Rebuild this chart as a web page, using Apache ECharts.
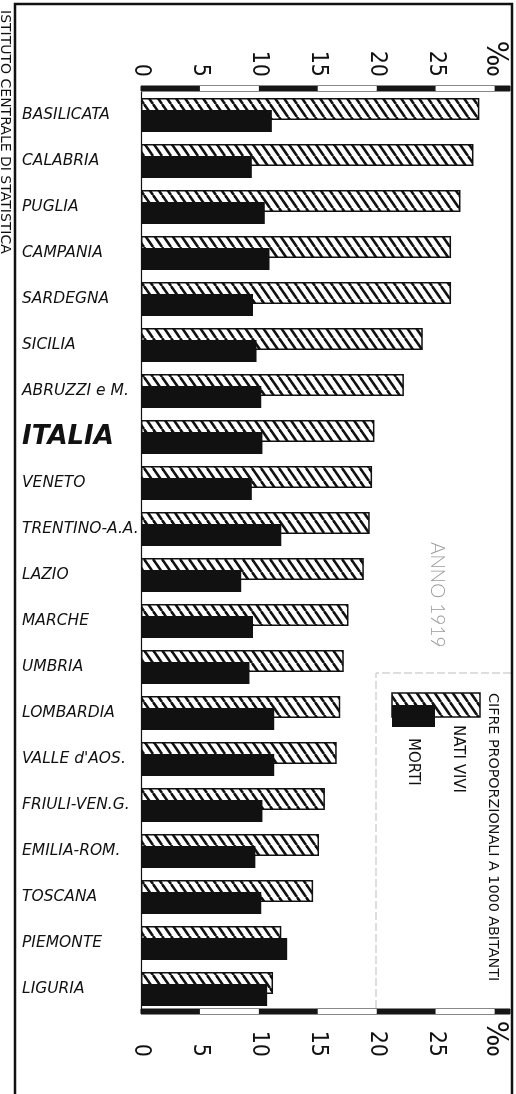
<!DOCTYPE html>
<html>
<head>
<meta charset="utf-8">
<style>
  html, body { margin: 0; padding: 0; background: #ffffff; }
  #chart { width: 516px; height: 1094px; }
</style>
<script src="https://cdn.jsdelivr.net/npm/echarts@6/dist/echarts.min.js"></script>
</head>
<body>
<div id="chart"></div>
<script>
// ---- data (per 1000 inhabitants, year 1919) ----
const regions = ['BASILICATA', 'CALABRIA', 'PUGLIA', 'CAMPANIA', 'SARDEGNA', 'SICILIA', 'ABRUZZI e M.',
  'ITALIA', 'VENETO', 'TRENTINO-A.A.', 'LAZIO', 'MARCHE', 'UMBRIA', 'LOMBARDIA', "VALLE d'AOS.",
  'FRIULI-VEN.G.', 'EMILIA-ROM.', 'TOSCANA', 'PIEMONTE', 'LIGURIA'];
const natiVivi = [28.7, 28.2, 27.1, 26.3, 26.3, 23.9, 22.3, 19.8, 19.6, 19.4, 18.9, 17.6, 17.2, 16.9, 16.6, 15.6, 15.1, 14.6, 11.9, 11.2];
const morti = [11.1, 9.4, 10.5, 10.9, 9.5, 9.8, 10.2, 10.3, 9.4, 11.9, 8.5, 9.5, 9.2, 11.3, 11.3, 10.3, 9.7, 10.2, 12.4, 10.7];
const tickValues = [0, 5, 10, 15, 20, 25, 30];
const tickLabels = ['0', '5', '10', '15', '20', '25', '‰'];
const seriesNames = ['NATI VIVI', 'MORTI'];
const legendTitle = 'CIFRE PROPORZIONALI A 1000 ABITANTI';
const yearLabel = 'ANNO 1919';
const sourceLabel = 'ISTITUTO CENTRALE DI STATISTICA';

const INK = '#111111';
const AXIS_MAX = 31.3;
const DIGIT_FONT = "'Liberation Sans Narrow', 'DejaVu Sans Condensed', sans-serif";

function makeHatch() {
  const W = 9, H = 13;
  const c = document.createElement('canvas');
  c.width = W; c.height = H;
  const g = c.getContext('2d');
  g.fillStyle = '#ffffff';
  g.fillRect(0, 0, W, H);
  g.strokeStyle = INK;
  g.lineWidth = 2.6;
  for (let k = -1; k <= 1; k++) {
    g.beginPath();
    g.moveTo(k * W, 0);
    g.lineTo(k * W + W, H);
    g.stroke();
  }
  return c;
}
const hatch = makeHatch();

function scaleAxis(gridIndex, position, margin) {
  return {
    type: 'value', gridIndex: gridIndex, position: position,
    min: 0, max: AXIS_MAX, interval: 5,
    axisLine: { show: false }, axisTick: { show: false }, splitLine: { show: false },
    splitArea: { show: true, areaStyle: { color: ['#161616', '#ffffff'] } },
    axisLabel: {
      rotate: -90, margin: margin, align: 'right', verticalAlign: 'middle',
      color: INK, fontSize: 23, fontFamily: DIGIT_FONT,
      formatter: function (v) {
        const i = tickValues.indexOf(v);
        if (i < 0) return '';
        return i === tickValues.length - 1 ? '{p|' + tickLabels[i] + '}' : tickLabels[i];
      },
      rich: { p: { fontSize: 30, fontFamily: DIGIT_FONT, color: INK } }
    }
  };
}

const chart = echarts.init(document.getElementById('chart'), null, { renderer: 'canvas' });

const option = {
  backgroundColor: '#ffffff',
  animation: false,
  grid: [
    { left: 141, top: 92, width: 369, height: 920, outerBoundsMode: 'none', containLabel: false },
    { left: 141, top: 86, width: 369, height: 5, show: true, borderColor: INK, borderWidth: 1, backgroundColor: 'transparent', outerBoundsMode: 'none', containLabel: false },
    { left: 141, top: 1009, width: 369, height: 5, show: true, borderColor: INK, borderWidth: 1, backgroundColor: 'transparent', outerBoundsMode: 'none', containLabel: false }
  ],
  xAxis: [
    { type: 'value', gridIndex: 0, min: 0, max: AXIS_MAX, interval: 5, show: false, splitLine: { show: false } },
    scaleAxis(1, 'top', 9),
    scaleAxis(2, 'bottom', 43)
  ],
  yAxis: [
    {
      type: 'category', gridIndex: 0, data: regions, inverse: true,
      axisLine: { show: true, lineStyle: { color: INK, width: 1.2 } },
      axisTick: { show: false },
      splitLine: { show: false },
      axisLabel: {
        align: 'left', margin: 119, verticalAlign: 'middle',
        formatter: function (v) { return v === 'ITALIA' ? '{it|' + v + '}' : '{n|' + v + '}'; },
        rich: {
          n: { fontSize: 15.5, fontStyle: 'italic', fontFamily: "'DejaVu Sans', sans-serif", color: INK },
          it: { fontSize: 26, fontStyle: 'italic', fontWeight: 'bold', fontFamily: "'DejaVu Sans', sans-serif", color: INK }
        }
      }
    },
    { type: 'value', gridIndex: 1, show: false },
    { type: 'value', gridIndex: 2, show: false }
  ],
  series: [
    {
      name: seriesNames[0], type: 'bar', xAxisIndex: 0, yAxisIndex: 0,
      data: natiVivi, barWidth: 22, barGap: '-45%', z: 2,
      itemStyle: { color: { image: hatch, repeat: 'repeat' }, borderColor: INK, borderWidth: 1.5 }
    },
    {
      name: seriesNames[1], type: 'bar', xAxisIndex: 0, yAxisIndex: 0,
      data: morti, barWidth: 22, barGap: '-45%', z: 3,
      itemStyle: { color: INK }
    }
  ],
  graphic: [
    { type: 'polyline', z: 10, shape: { points: [[15, 1094], [15, 4], [512, 4], [512, 1094]] }, style: { stroke: INK, lineWidth: 2.5, fill: null } },
    { type: 'text', x: 5, y: 10, rotation: -Math.PI / 2, z: 10,
      style: { text: sourceLabel, font: "14px 'DejaVu Sans', sans-serif", fill: INK, align: 'left', verticalAlign: 'middle', textAlign: 'left', textVerticalAlign: 'middle' } },
    { type: 'polyline', z: 1, shape: { points: [[376, 1008], [376, 673], [512, 673]] }, style: { stroke: '#bdbdbd', lineWidth: 1, lineDash: [8, 3], fill: null } },
    { type: 'rect', z: 10, shape: { x: 392, y: 693, width: 88, height: 24 }, style: { fill: { image: hatch, repeat: 'repeat' }, stroke: INK, lineWidth: 1.5 } },
    { type: 'rect', z: 11, shape: { x: 392, y: 705, width: 43, height: 22 }, style: { fill: INK } },
    { type: 'text', x: 493, y: 693, rotation: -Math.PI / 2, z: 10,
      style: { text: legendTitle, font: "14.3px 'DejaVu Sans', sans-serif", fill: INK, align: 'left', verticalAlign: 'middle', textAlign: 'left', textVerticalAlign: 'middle' } },
    { type: 'text', x: 458, y: 725, rotation: -Math.PI / 2, z: 10,
      style: { text: seriesNames[0], font: "15px 'DejaVu Sans', sans-serif", fill: INK, align: 'left', verticalAlign: 'middle', textAlign: 'left', textVerticalAlign: 'middle' } },
    { type: 'text', x: 413, y: 738, rotation: -Math.PI / 2, z: 10,
      style: { text: seriesNames[1], font: "15px 'DejaVu Sans', sans-serif", fill: INK, align: 'left', verticalAlign: 'middle', textAlign: 'left', textVerticalAlign: 'middle' } },
    { type: 'text', x: 437, y: 542, rotation: -Math.PI / 2, z: 10,
      style: { text: yearLabel, font: "300 19px Lato, 'DejaVu Sans', sans-serif", fill: '#9a9a9a', align: 'left', verticalAlign: 'middle', textAlign: 'left', textVerticalAlign: 'middle' } }
  ]
};

chart.setOption(option);
</script>
</body>
</html>
